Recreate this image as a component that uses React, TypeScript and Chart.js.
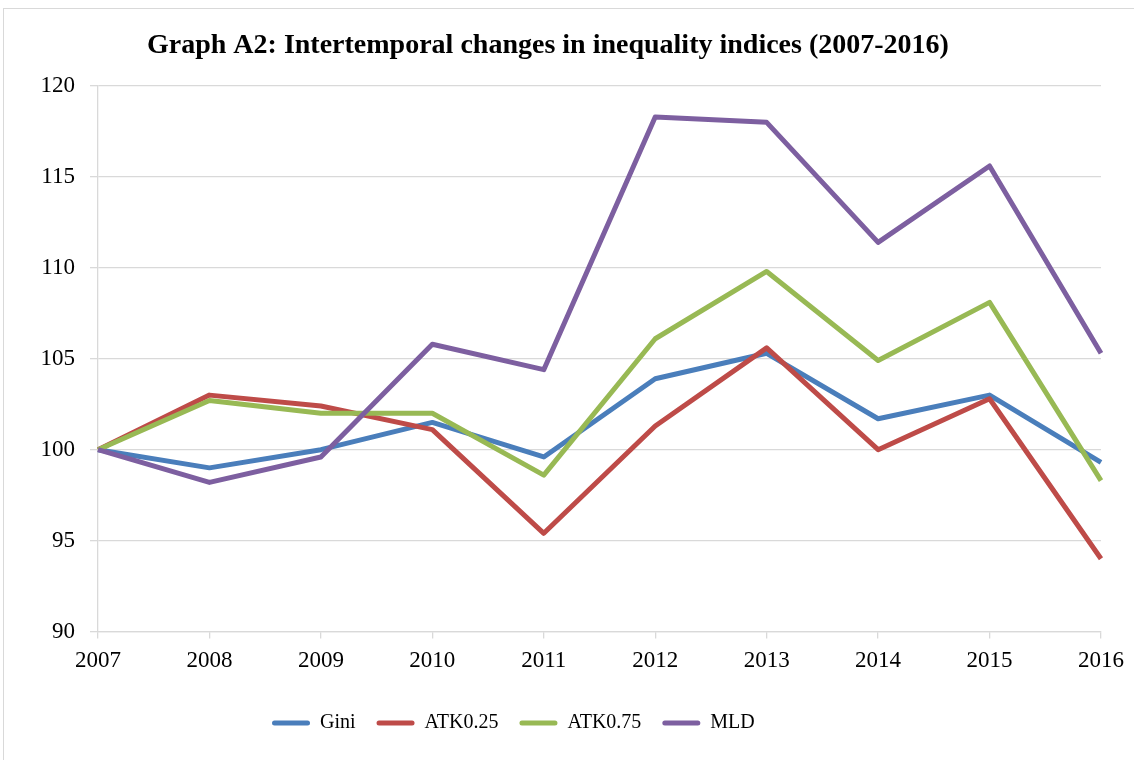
import React, { useEffect, useRef } from "react";
import { Chart, registerables } from "chart.js";

Chart.register(...registerables);

const TITLE = "Graph A2: Intertemporal changes in inequality indices (2007-2016)";
const years = ["2007", "2008", "2009", "2010", "2011", "2012", "2013", "2014", "2015", "2016"];
const gini = [100, 99.0, 100.0, 101.5, 99.6, 103.9, 105.3, 101.7, 103.0, 99.3];
const atk025 = [100, 103.0, 102.4, 101.1, 95.4, 101.3, 105.6, 100.0, 102.8, 94.0];
const atk075 = [100, 102.7, 102.0, 102.0, 98.6, 106.1, 109.8, 104.9, 108.1, 98.3];
const mld = [100, 98.2, 99.6, 105.8, 104.4, 118.3, 118.0, 111.4, 115.6, 105.3];
const seriesNames = ["Gini", "ATK0.25", "ATK0.75", "MLD"];
const seriesColors = ["#4A7EBB", "#BE4B48", "#98B954", "#7D5FA0"];

const FONT = "'Liberation Serif', 'Times New Roman', serif";

export default function App() {
  const ref = useRef<HTMLCanvasElement | null>(null);

  useEffect(() => {
    if (!ref.current) return;
    const values = [gini, atk025, atk075, mld];
    const titlePlugin = {
      id: "customTitle",
      afterLayout(chart: any) {
        const lg = chart.legend;
        if (lg) {
          const w = lg.right - lg.left;
          const h = lg.bottom - lg.top;
          lg.left = 251;
          lg.right = 251 + w;
          lg.top = 692;
          lg.bottom = 692 + h;
        }
      },
      afterDraw(chart: any) {
        const ctx = chart.ctx;
        ctx.save();
        ctx.font = "bold 28px " + FONT;
        ctx.fillStyle = "#000";
        ctx.textAlign = "left";
        ctx.textBaseline = "middle";
        ctx.fillText(TITLE, 147, 46);
        ctx.restore();
      },
    };
    const chart = new Chart(ref.current, {
      type: "line",
      data: {
        labels: years,
        datasets: seriesNames.map((name, i) => ({
          label: name,
          data: values[i],
          borderColor: seriesColors[i],
          backgroundColor: seriesColors[i],
          borderWidth: 5,
          pointRadius: 0,
          tension: 0,
          fill: false,
          borderJoinStyle: "round" as const,
          order: 3 - i,
        })),
      },
      options: {
        responsive: false,
        animation: false,
        layout: { padding: { top: 86, left: 0, right: 33, bottom: 27.5 } },
        plugins: {
          title: { display: false },
          tooltip: { enabled: false },
          legend: {
            position: "bottom",
            align: "start",
            labels: {
              boxWidth: 38,
              boxHeight: 5,
              padding: 21,
              color: "#000",
              font: { family: FONT, size: 20 },
              useBorderRadius: true,
              borderRadius: 2.5,
              generateLabels: (c: any) =>
                c.data.datasets.map((ds: any, i: number) => ({
                  text: ds.label,
                  fillStyle: ds.borderColor,
                  strokeStyle: ds.borderColor,
                  lineWidth: 0,
                  hidden: false,
                  datasetIndex: i,
                  borderRadius: 2.5,
                  fontColor: "#000",
                })),
            },
          },
        },
        scales: {
          x: {
            offset: false,
            afterFit: (s: any) => {
              s.height = 50;
            },
            grid: {
              drawOnChartArea: false,
              drawTicks: true,
              tickLength: 7,
              color: "#D9D9D9",
              lineWidth: 1.3,
            },
            border: { display: true, color: "#D9D9D9", width: 1.3 },
            ticks: {
              color: "#000",
              padding: 9,
              maxRotation: 0,
              font: { family: FONT, size: 23 },
            },
          },
          y: {
            min: 90,
            max: 120,
            afterFit: (s: any) => {
              s.width = 98;
            },
            grid: {
              color: "#D9D9D9",
              lineWidth: 1.3,
              drawTicks: true,
              tickLength: 8,
            },
            border: { display: true, color: "#D9D9D9", width: 1.3 },
            ticks: {
              stepSize: 5,
              color: "#000",
              padding: 15,
              font: { family: FONT, size: 23 },
            },
          },
        },
      },
      plugins: [titlePlugin],
    });
    return () => chart.destroy();
  }, []);

  return (
    <div style={{ position: "absolute", left: 0, top: 0, width: 1134, height: 760, overflow: "hidden", background: "#fff" }}>
      <div
        style={{
          position: "absolute",
          left: 3,
          top: 8,
          width: 1200,
          height: 800,
          borderLeft: "1px solid #D9D9D9",
          borderTop: "1px solid #D9D9D9",
        }}
      />
      <canvas ref={ref} width={1134} height={760} style={{ position: "absolute", left: 0, top: 0 }} />
    </div>
  );
}
